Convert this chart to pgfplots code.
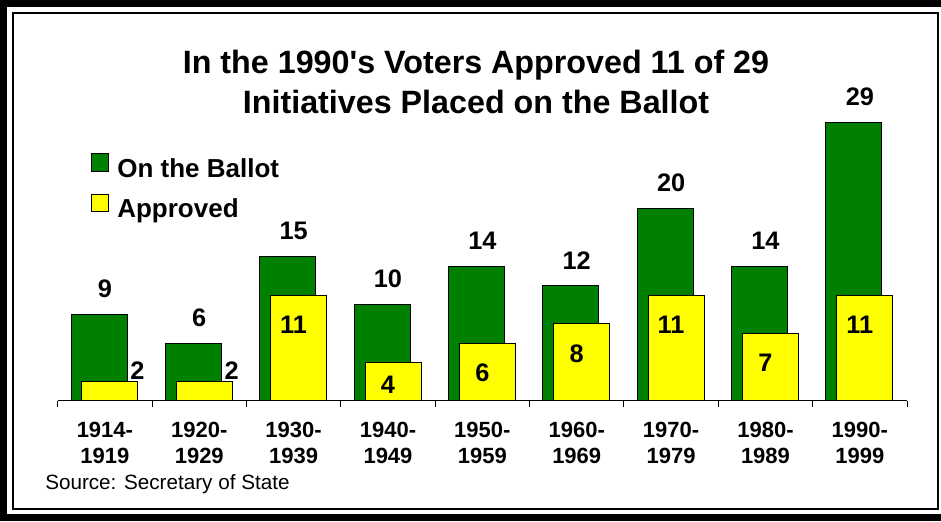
\documentclass[border=0pt]{standalone}
\usepackage{pgfplots}
\pgfplotsset{compat=1.18}
\usepackage{fontspec}
\setmainfont{Liberation Sans}[Ligatures=TeXOff]

\definecolor{ballot}{RGB}{0,128,0}
\definecolor{approved}{RGB}{255,255,0}

\pgfplotsset{
  sqlegend/.style={legend image code/.code={%
      \draw[##1,/tikz/.cd,line width=0.75pt] (0pt,0pt) rectangle (13pt,13pt);}},
}

\begin{document}
\begin{tikzpicture}
% frame, title and source in pixel units
\begin{scope}[x=0.75pt,y=0.75pt]
\fill[white] (-5,-5) rectangle (941,530);
\fill[black] (0,0) rectangle (7,521);
\fill[black] (0,514) rectangle (941,521);
\fill[black] (0,0) rectangle (941,7);
\draw[line width=0.9pt] (13,12) rectangle (938,508);
\coordinate (origin) at (57.7,120.3);
\node[font=\bfseries\fontsize{24.2}{30}\selectfont, align=center] at (476,439)
  {In the 1990's Voters Approved 11 of 29\\Initiatives Placed on the Ballot};
\node[anchor=west, inner sep=0pt, font=\fontsize{15.5}{18}\selectfont] at (45,37)
  {Source: Secretary of State};
\end{scope}
\begin{axis}[
    at={(origin)}, anchor=south west,
    scale only axis,
    width=637pt, height=216pt,
    xmin=0.5, xmax=9.5, ymin=0, ymax=30,
    hide y axis,
    axis x line*=bottom,
    x axis line style={-, line width=0.75pt},
    xtick={1,...,9},
    xticklabels={{1914-\\1919},{1920-\\1929},{1930-\\1939},{1940-\\1949},{1950-\\1959},
                 {1960-\\1969},{1970-\\1979},{1980-\\1989},{1990-\\1999}},
    major tick length=0pt,
    minor xtick={0.5,1.5,...,9.5},
    minor tick length=5pt,
    tick align=outside,
    tick style={black, line width=0.75pt},
    xticklabel style={align=center, inner sep=0pt, yshift=-16pt,
                      font=\bfseries\fontsize{16.5}{19.5}\selectfont},
    /pgf/number format/assume math mode=true,
    legend cell align=left,
    legend style={at={(0.0389,0.86)}, anchor=north west, draw=none, fill=none,
                  inner sep=0pt, row sep=8.5pt,
                  font=\bfseries\fontsize{19.5}{21}\selectfont,
                  nodes={inner sep=0pt, text height=13pt, text depth=4pt},
                  /tikz/every odd column/.append style={column sep=6pt}},
]
\addplot[ybar, bar width=42pt, bar shift=-4.4pt, fill=ballot, draw=black, line width=0.75pt,
    sqlegend,
    nodes near coords,
    every node near coord/.append style={font=\bfseries\fontsize{19}{20}\selectfont,
        text=black, anchor=south, inner sep=0pt, yshift=12pt}]
    coordinates {(1,9) (2,6) (3,15) (4,10) (5,14) (6,12) (7,20) (8,14) (9,29)};
\addplot[ybar, bar width=42pt, bar shift=3.8pt, fill=approved, draw=black, line width=0.75pt,
    sqlegend,
    nodes near coords,
    every node near coord/.append style={font=\bfseries\fontsize{19}{20}\selectfont,
        text=black, anchor=north, inner sep=0pt, yshift=-15pt},
    coordinate style/.condition={\coordindex<2}{xshift=24.4pt, yshift=30pt},
    coordinate style/.condition={\coordindex==3}{yshift=5.25pt}]
    coordinates {(1,2) (2,2) (3,11) (4,4) (5,6) (6,8) (7,11) (8,7) (9,11)};
\legend{On the Ballot, Approved}
\end{axis}
% keep the right margin white
\begin{scope}[x=0.75pt,y=0.75pt]
\draw[white, line width=1.5pt] (925,100) -- (925,420);
\draw[white, line width=1.5pt] (932,100) -- (932,420);
\draw[white, line width=1.5pt] (936,100) -- (936,420);
\end{scope}
\pgfresetboundingbox
\path[use as bounding box] (0pt,0pt) rectangle (705.75pt,390.75pt);
\end{tikzpicture}
\end{document}
